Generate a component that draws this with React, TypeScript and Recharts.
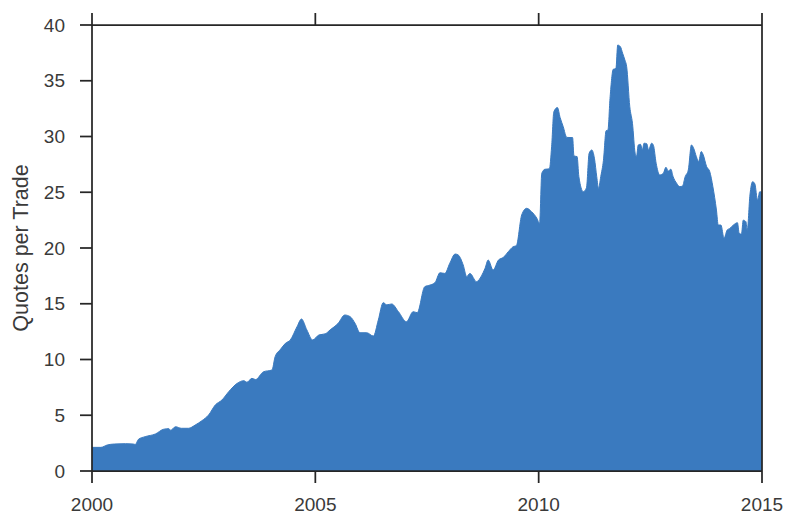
import { AreaChart, Area, XAxis, YAxis } from "recharts";

// values, x in fractional years
const years = [
  2000.0, 2000.2, 2000.34, 2000.5, 2000.75, 2000.92, 2000.97, 2001.04, 2001.19, 2001.42,
  2001.6, 2001.72, 2001.76, 2001.87, 2002.0, 2002.16, 2002.31, 2002.46, 2002.61, 2002.76,
  2002.91, 2003.06, 2003.25, 2003.4, 2003.47, 2003.58, 2003.66, 2003.84, 2004.03, 2004.1,
  2004.22, 2004.33, 2004.44, 2004.59, 2004.69, 2004.81, 2004.94, 2005.08, 2005.22, 2005.33,
  2005.51, 2005.66, 2005.78, 2005.89, 2006.0, 2006.15, 2006.3, 2006.41, 2006.52, 2006.6,
  2006.71, 2006.86, 2007.04, 2007.19, 2007.28, 2007.45, 2007.57, 2007.68, 2007.79, 2007.9,
  2008.01, 2008.13, 2008.2, 2008.31, 2008.39, 2008.46, 2008.61, 2008.72, 2008.8, 2008.87,
  2008.98, 2009.1, 2009.21, 2009.32, 2009.43, 2009.5, 2009.62, 2009.73, 2009.84, 2009.96,
  2010.02, 2010.07, 2010.14, 2010.24, 2010.29, 2010.34, 2010.42, 2010.48, 2010.55, 2010.63,
  2010.76, 2010.79, 2010.86, 2010.9, 2011.0, 2011.07, 2011.13, 2011.19, 2011.25, 2011.3,
  2011.34, 2011.39, 2011.45, 2011.51, 2011.55, 2011.6, 2011.67, 2011.73, 2011.77, 2011.83,
  2011.88, 2011.93, 2011.97, 2012.04, 2012.1, 2012.16, 2012.19, 2012.23, 2012.28, 2012.32,
  2012.36, 2012.42, 2012.46, 2012.53, 2012.57, 2012.63, 2012.71, 2012.79, 2012.85, 2012.9,
  2012.96, 2013.01, 2013.09, 2013.16, 2013.22, 2013.28, 2013.35, 2013.42, 2013.47, 2013.53,
  2013.58, 2013.64, 2013.68, 2013.76, 2013.83, 2013.9, 2013.98, 2014.02, 2014.08, 2014.15,
  2014.22, 2014.28, 2014.36, 2014.45, 2014.49, 2014.54, 2014.58, 2014.64, 2014.67, 2014.73,
  2014.79, 2014.84, 2014.9, 2014.95, 2015.0,
];

const quotesPerTrade = [
  2.12, 2.12, 2.33, 2.42, 2.45, 2.42, 2.38, 2.84, 3.08, 3.32,
  3.74, 3.8, 3.65, 3.97, 3.83, 3.83, 4.12, 4.51, 5.02, 5.92,
  6.37, 7.11, 7.86, 8.1, 7.96, 8.31, 8.2, 8.9, 9.06, 10.25,
  10.91, 11.45, 11.75, 12.94, 13.63, 12.65, 11.75, 12.2, 12.3, 12.65,
  13.24, 13.99, 13.84, 13.24, 12.4, 12.4, 12.1, 13.54, 15.1, 14.9,
  14.98, 14.29, 13.39, 14.29, 14.2, 16.53, 16.68, 16.9, 17.78, 17.72,
  18.63, 19.46, 19.37, 18.48, 17.43, 17.72, 16.98, 17.5, 18.18, 18.92,
  18.03, 18.92, 19.16, 19.67, 20.12, 20.2, 22.96, 23.56, 23.26, 22.66,
  22.2, 26.7, 27.06, 27.1, 29.08, 32.22, 32.6, 31.7, 30.88, 29.92,
  29.9, 28.25, 28.2, 26.4, 25.05, 25.4, 28.5, 28.79, 28.0, 26.4,
  25.35, 26.4, 27.85, 30.52, 30.57, 33.57, 36.03, 36.1, 38.2, 38.05,
  37.46, 36.86, 36.26, 32.67, 31.18, 28.5, 28.2, 29.24, 29.3, 28.8,
  29.4, 29.35, 28.8, 29.4, 29.2, 27.6, 26.55, 26.7, 27.24, 26.9,
  27.06, 26.4, 25.8, 25.5, 25.56, 26.4, 27.0, 29.24, 28.94, 28.2,
  27.74, 28.65, 28.4, 27.3, 26.85, 25.5, 23.4, 22.06, 22.06, 20.87,
  21.61, 21.76, 22.06, 22.27, 21.31, 21.25, 22.5, 22.36, 21.6, 24.75,
  25.95, 25.75, 24.3, 25.05, 25.0,
];

const xTicks = [2000, 2005, 2010, 2015];
const yTicks = [0, 5, 10, 15, 20, 25, 30, 35, 40];

const data = years.map((year, i) => ({ year, qpt: quotesPerTrade[i] }));

const ink = "#262626";
const textColor = "#3a3a3a";
const font = "'Liberation Sans', Arial, sans-serif";

export default function App() {
  const tickStyle = { fill: textColor, fontSize: 19, fontFamily: font };
  return (
    <div style={{ position: "absolute", left: 0, top: 0 }}>
      <AreaChart width={785} height={515} data={data} margin={{ top: 24, right: 22, left: 0, bottom: 0 }}>
        <XAxis
          dataKey="year"
          type="number"
          domain={[2000, 2015]}
          ticks={xTicks}
          height={44}
          tickSize={12}
          tickMargin={15}
          stroke={ink}
          strokeWidth={1.75}
          tick={tickStyle}
        />
        <XAxis
          xAxisId="top"
          orientation="top"
          dataKey="year"
          type="number"
          domain={[2000, 2015]}
          ticks={xTicks}
          height={1}
          tickSize={12}
          stroke={ink}
          strokeWidth={1.75}
          tickFormatter={() => ""}
        />
        <YAxis
          type="number"
          domain={[0, 40]}
          ticks={yTicks}
          width={92}
          tickSize={12}
          tickMargin={15}
          stroke={ink}
          strokeWidth={1.75}
          tick={tickStyle}
          label={() => (
            <text
              x={21}
              y={248}
              transform="rotate(-90 21 248)"
              textAnchor="middle"
              dominantBaseline="central"
              fill={textColor}
              fontSize={21.5}
              fontFamily={font}
            >
              Quotes per Trade
            </text>
          )}
        />
        <YAxis
          yAxisId="right"
          orientation="right"
          type="number"
          domain={[0, 40]}
          ticks={yTicks}
          width={1}
          tickSize={12}
          stroke={ink}
          strokeWidth={1.75}
          tickFormatter={() => ""}
        />
        <Area
          type="monotone"
          dataKey="qpt"
          stroke="#3a7abf"
          strokeWidth={1}
          fill="#3a7abf"
          fillOpacity={1}
          isAnimationActive={false}
        />
      </AreaChart>
    </div>
  );
}
